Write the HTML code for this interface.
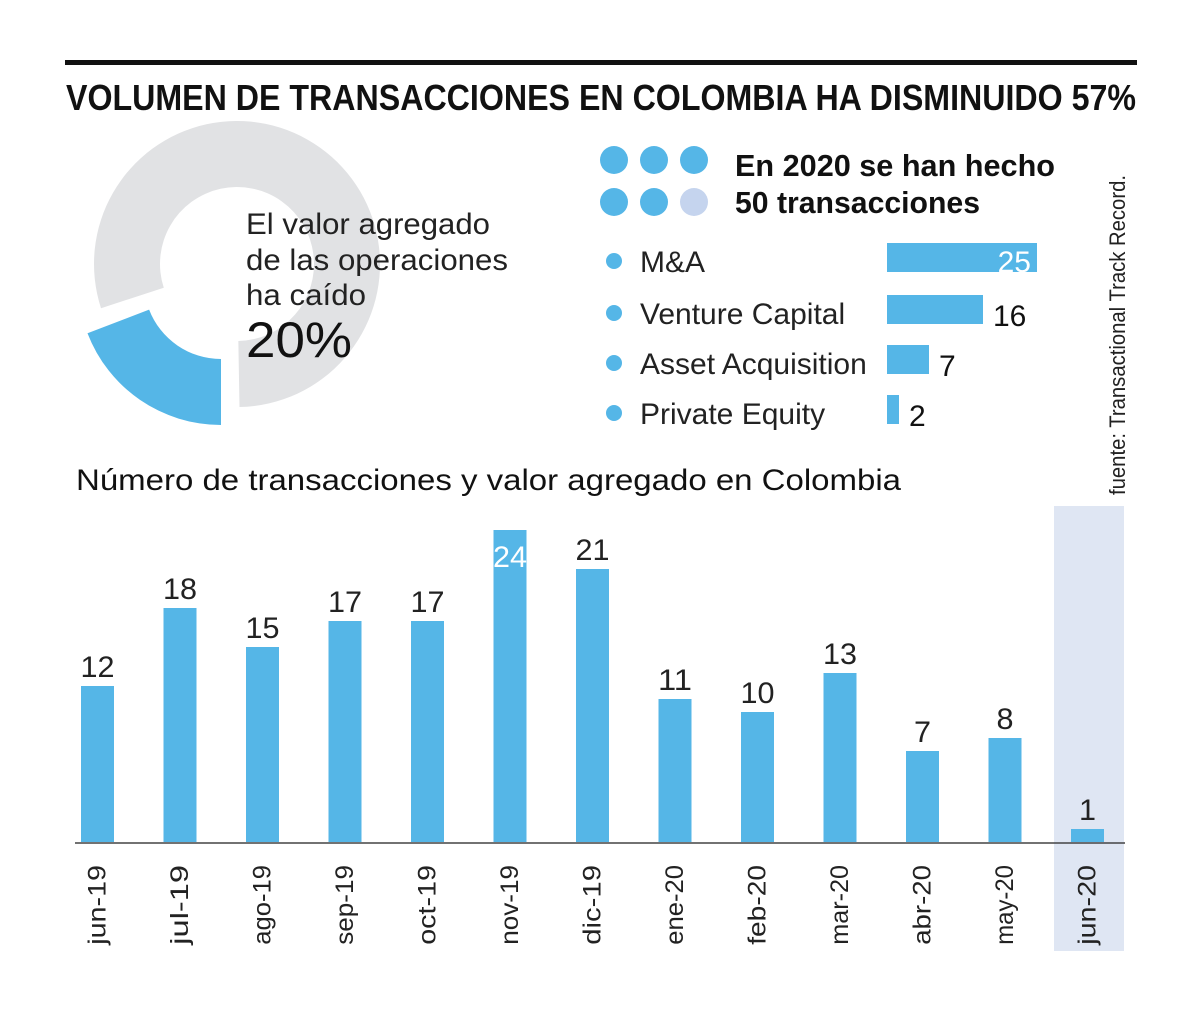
<!DOCTYPE html>
<html><head><meta charset="utf-8"><style>
body{margin:0;background:#fff}
svg{display:block}
text{font-family:"Liberation Sans",sans-serif}
.n{font-family:"Liberation Sans Narrow","Liberation Sans",sans-serif}
</style></head><body>
<svg id="c" width="1200" height="1014" viewBox="0 0 1200 1014">
<rect x="65" y="60" width="1072" height="5" fill="#111"/>
<text class="n" x="66" y="110" font-size="36" font-weight="bold" fill="#111" textLength="1070" lengthAdjust="spacingAndGlyphs">VOLUMEN DE TRANSACCIONES EN COLOMBIA HA DISMINUIDO 57%</text>
<g id="donut"></g>
<text x="246" y="234" font-size="30" fill="#222" textLength="244" lengthAdjust="spacingAndGlyphs">El valor agregado</text>
<text x="246" y="270" font-size="30" fill="#222" textLength="262" lengthAdjust="spacingAndGlyphs">de las operaciones</text>
<text x="246" y="305" font-size="30" fill="#222" textLength="120" lengthAdjust="spacingAndGlyphs">ha caído</text>
<text x="246" y="357" font-size="50" fill="#111" textLength="106" lengthAdjust="spacingAndGlyphs">20%</text>
<g>
<circle cx="614" cy="160" r="14" fill="#55b6e7"/><circle cx="654" cy="160" r="14" fill="#55b6e7"/><circle cx="694" cy="160" r="14" fill="#55b6e7"/>
<circle cx="614" cy="202" r="14" fill="#55b6e7"/><circle cx="654" cy="202" r="14" fill="#55b6e7"/><circle cx="694" cy="202" r="14" fill="#c5d4ee"/>
</g>
<text x="735" y="176" font-size="31" font-weight="bold" fill="#111" textLength="320" lengthAdjust="spacingAndGlyphs">En 2020 se han hecho</text>
<text x="735" y="213" font-size="31" font-weight="bold" fill="#111" textLength="245" lengthAdjust="spacingAndGlyphs">50 transacciones</text>
<g id="legend"></g>
<text transform="translate(1125,495) rotate(-90)" font-size="22" fill="#222" textLength="320" lengthAdjust="spacingAndGlyphs">fuente: Transactional Track Record.</text>
<text x="76" y="490" font-size="30" fill="#111" textLength="825" lengthAdjust="spacingAndGlyphs">Número de transacciones y valor agregado en Colombia</text>
<rect x="1054" y="506" width="70" height="445" fill="#dfe6f3"/>
<g id="bars"></g>
<line x1="75" y1="843" x2="1125" y2="843" stroke="#444" stroke-width="1.5"/>
</svg>
<script>
const months = ["jun-19","jul-19","ago-19","sep-19","oct-19","nov-19","dic-19","ene-20","feb-20","mar-20","abr-20","may-20","jun-20"];
const counts = [12,18,15,17,17,24,21,11,10,13,7,8,1];
const types = ["M&A","Venture Capital","Asset Acquisition","Private Equity"];
const typeCounts = [25,16,7,2];
const donutShare = [20,80];
const NS="http://www.w3.org/2000/svg";
function mk(tag,attrs,parent){const e=document.createElementNS(NS,tag);for(const k in attrs)e.setAttribute(k,attrs[k]);parent.appendChild(e);return e;}
const base=842, unit=13;
const xPos=i=>97.5+i*82.5;
const yPos=v=>base-v*unit;
const bars=document.getElementById('bars');
counts.forEach((v,i)=>{
  const r=mk('rect',{x:xPos(i)-16.5,y:yPos(v),width:33,height:v*unit,fill:'#55b6e7'},bars);
  
  
  const inside = yPos(v)<545;
  const t=mk('text',{x:xPos(i),y:inside?yPos(v)+37:yPos(v)-9,'font-size':30,fill:inside?'#fff':'#222','text-anchor':'middle',textLength:String(v).length*17,lengthAdjust:'spacingAndGlyphs'},bars);
  t.textContent=v;
  
  
  const l=mk('text',{transform:`translate(${xPos(i)+8},865) rotate(-90)`,'font-size':25,fill:'#222','text-anchor':'end',textLength:months[i].length*13.3,lengthAdjust:'spacingAndGlyphs'},bars);
  l.textContent=months[i];
  
  
});
const lg=document.getElementById('legend');
const tunit=6.0, rowY=[243,295,345,395];
types.forEach((n,i)=>{
  const c=mk('circle',{cx:614,cy:rowY[i]+18,r:8,fill:'#55b6e7'},lg);
  
  
  const t=mk('text',{x:640,y:rowY[i]+29,'font-size':30,fill:'#222'},lg);
  t.textContent=n;
  
  
  const w=Math.max(10,typeCounts[i]*tunit);
  const r=mk('rect',{x:887,y:rowY[i],width:w,height:29,fill:'#55b6e7'},lg);
  
  
  const inside=w>120;
  const v=mk('text',{x:inside?887+w-6:887+w+10,y:rowY[i]+29+(inside?0:2),'font-size':30,fill:inside?'#fff':'#111','text-anchor':inside?'end':'start'},lg);
  v.textContent=typeCounts[i];
  
  
});
const dg=document.getElementById('donut');
const cx=237,cy=264,R=143,r0=77;
function arc(a0,a1,dx,dy,fill){
  const p=(a,rr)=>[cx+dx+rr*Math.sin(a*Math.PI/180),cy+dy-rr*Math.cos(a*Math.PI/180)];
  const large=(a1-a0)>180?1:0;
  const [x1,y1]=p(a0,R),[x2,y2]=p(a1,R),[x3,y3]=p(a1,r0),[x4,y4]=p(a0,r0);
  return mk('path',{d:`M${x1},${y1}A${R},${R} 0 ${large} 1 ${x2},${y2}L${x3},${y3}A${r0},${r0} 0 ${large} 0 ${x4},${y4}Z`,fill},dg);
}
const blueSpan=donutShare[0]/100*360;
const g=arc(-108,180-1,0,0,'#e1e2e4');


const b=arc(180,180+blueSpan-3,-16,18,'#55b6e7');


</script>
</body></html>
